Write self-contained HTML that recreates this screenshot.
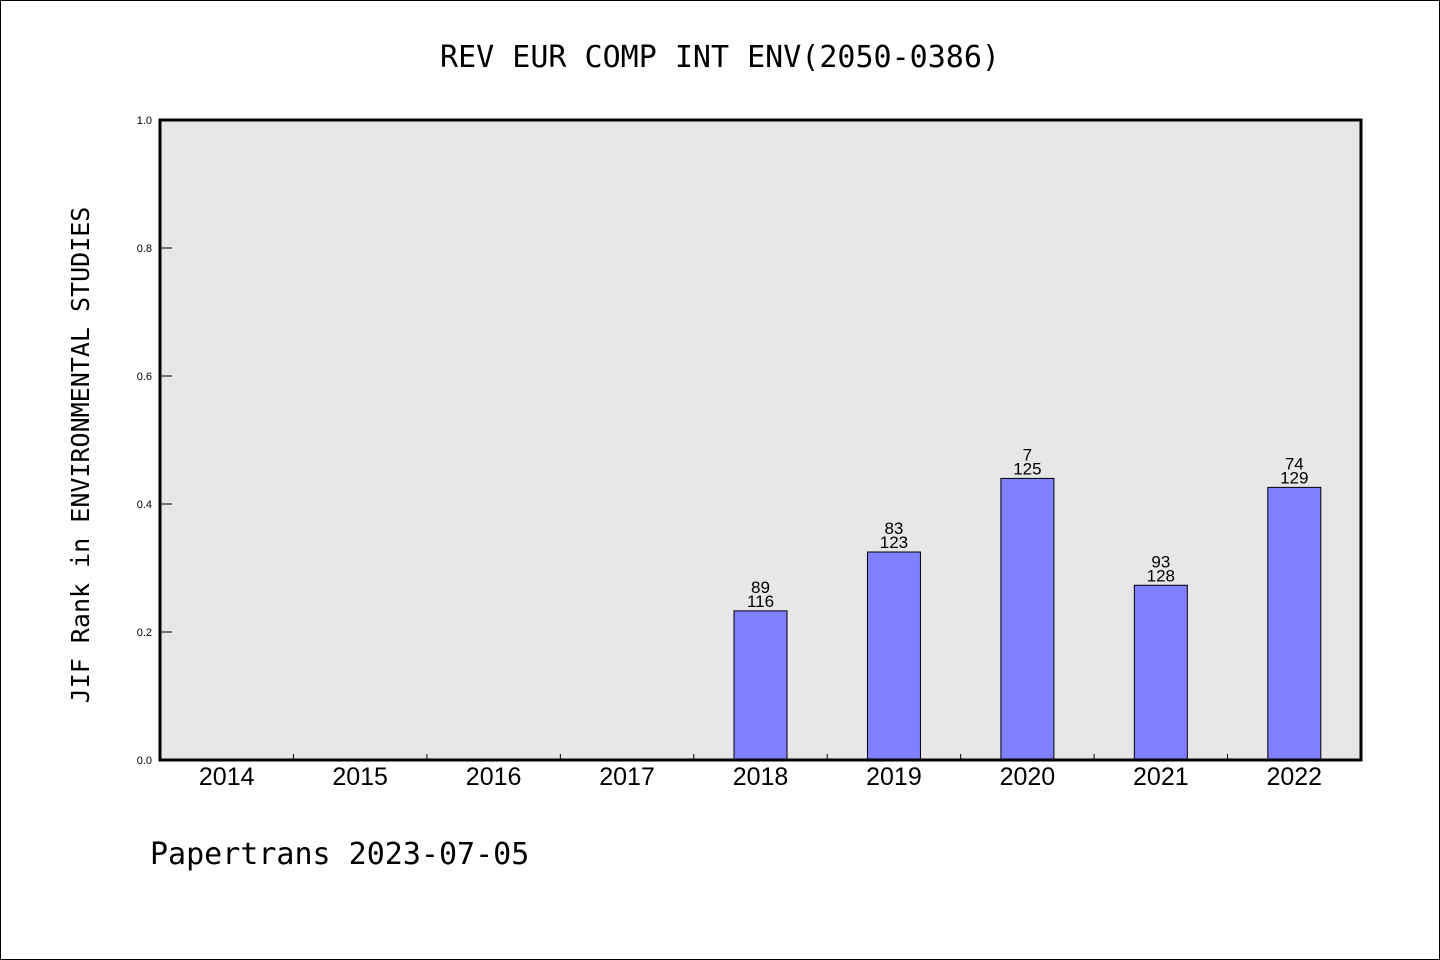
<!DOCTYPE html>
<html><head><meta charset="utf-8"><style>
html,body{margin:0;padding:0;background:#fff;}
svg{display:block;}
</style></head><body>
<svg id="chart" width="1440" height="960" xmlns="http://www.w3.org/2000/svg">
<rect x="0.5" y="0.5" width="1439" height="959" fill="#fff" stroke="#000" stroke-width="1"/>
<text x="720" y="67" text-anchor="middle" font-family="DejaVu Sans Mono, Liberation Mono, monospace" font-size="30" fill="#000">REV EUR COMP INT ENV(2050-0386)</text>
<rect x="160" y="120" width="1201" height="640" fill="#e7e7e7"/>
<g id="ticks"></g>
<g id="bars"></g>
<rect x="160" y="120" width="1201" height="640" fill="none" stroke="#000" stroke-width="3"/>
<text transform="translate(89,455) rotate(-90)" text-anchor="middle" font-family="DejaVu Sans Mono, Liberation Mono, monospace" font-size="25" fill="#000">JIF Rank in ENVIRONMENTAL STUDIES</text>
<text x="150" y="864" font-family="DejaVu Sans Mono, Liberation Mono, monospace" font-size="30" fill="#000">Papertrans 2023-07-05</text>
</svg>
<script>
const categories = ["2014","2015","2016","2017","2018","2019","2020","2021","2022"];
const values = [null,null,null,null,0.233,0.325,0.44,0.273,0.426];
const rankLabels = ["","","","","89","83","7","93","74"];
const totalLabels = ["","","","","116","123","125","128","129"];
const yTicks = [0.0,0.2,0.4,0.6,0.8,1.0];
const yTickLabels = ["0.0","0.2","0.4","0.6","0.8","1.0"];

const NS = "http://www.w3.org/2000/svg";
const X0 = 160, X1 = 1361, Y0 = 760, Y1 = 120;
const slot = (X1 - X0) / categories.length;
function xCenter(i){ return X0 + slot * (i + 0.5); }
function yScale(v){ return Y0 - (v - 0) / (1 - 0) * (Y0 - Y1); }
function mk(tag, attrs){ const e = document.createElementNS(NS, tag); for (const k in attrs) e.setAttribute(k, attrs[k]); return e; }

const tg = document.getElementById("ticks");
yTicks.forEach((t, i) => {
  const y = yScale(t);
  const l = mk("line", {x1: X0, x2: X0 + 12, y1: y, y2: y, stroke: "#000", "stroke-width": 1});
  
  
  tg.appendChild(l);
  const tx = mk("text", {x: 152, y: y + 4, "text-anchor": "end", "font-family": "Liberation Sans, sans-serif", "font-size": 11, fill: "#000"});
  tx.textContent = yTickLabels[i];
  
  
  tg.appendChild(tx);
});
for (let i = 1; i < categories.length; i++) {
  const x = X0 + slot * i;
  const l = mk("line", {x1: x, x2: x, y1: Y0, y2: Y0 - 6, stroke: "#000", "stroke-width": 1});
  
  
  tg.appendChild(l);
}
categories.forEach((c, i) => {
  const tx = mk("text", {x: xCenter(i), y: 785, "text-anchor": "middle", "font-family": "Liberation Sans, sans-serif", "font-size": 25, fill: "#000"});
  tx.textContent = c;
  
  
  tg.appendChild(tx);
});

const bg = document.getElementById("bars");
const bw = 53;
values.forEach((v, i) => {
  if (v === null) return;
  const y = yScale(v);
  const r = mk("rect", {x: xCenter(i) - bw / 2, y: y, width: bw, height: Y0 - y, fill: "#8080ff", stroke: "#000", "stroke-width": 1});
  
  
  bg.appendChild(r);
  const t1 = mk("text", {x: xCenter(i), y: y - 18, "text-anchor": "middle", "font-family": "Liberation Sans, sans-serif", "font-size": 17, fill: "#000"});
  t1.textContent = rankLabels[i];
  
  
  bg.appendChild(t1);
  const t2 = mk("text", {x: xCenter(i), y: y - 4, "text-anchor": "middle", "font-family": "Liberation Sans, sans-serif", "font-size": 17, fill: "#000"});
  t2.textContent = totalLabels[i];
  
  
  bg.appendChild(t2);
});
</script>
</body></html>
